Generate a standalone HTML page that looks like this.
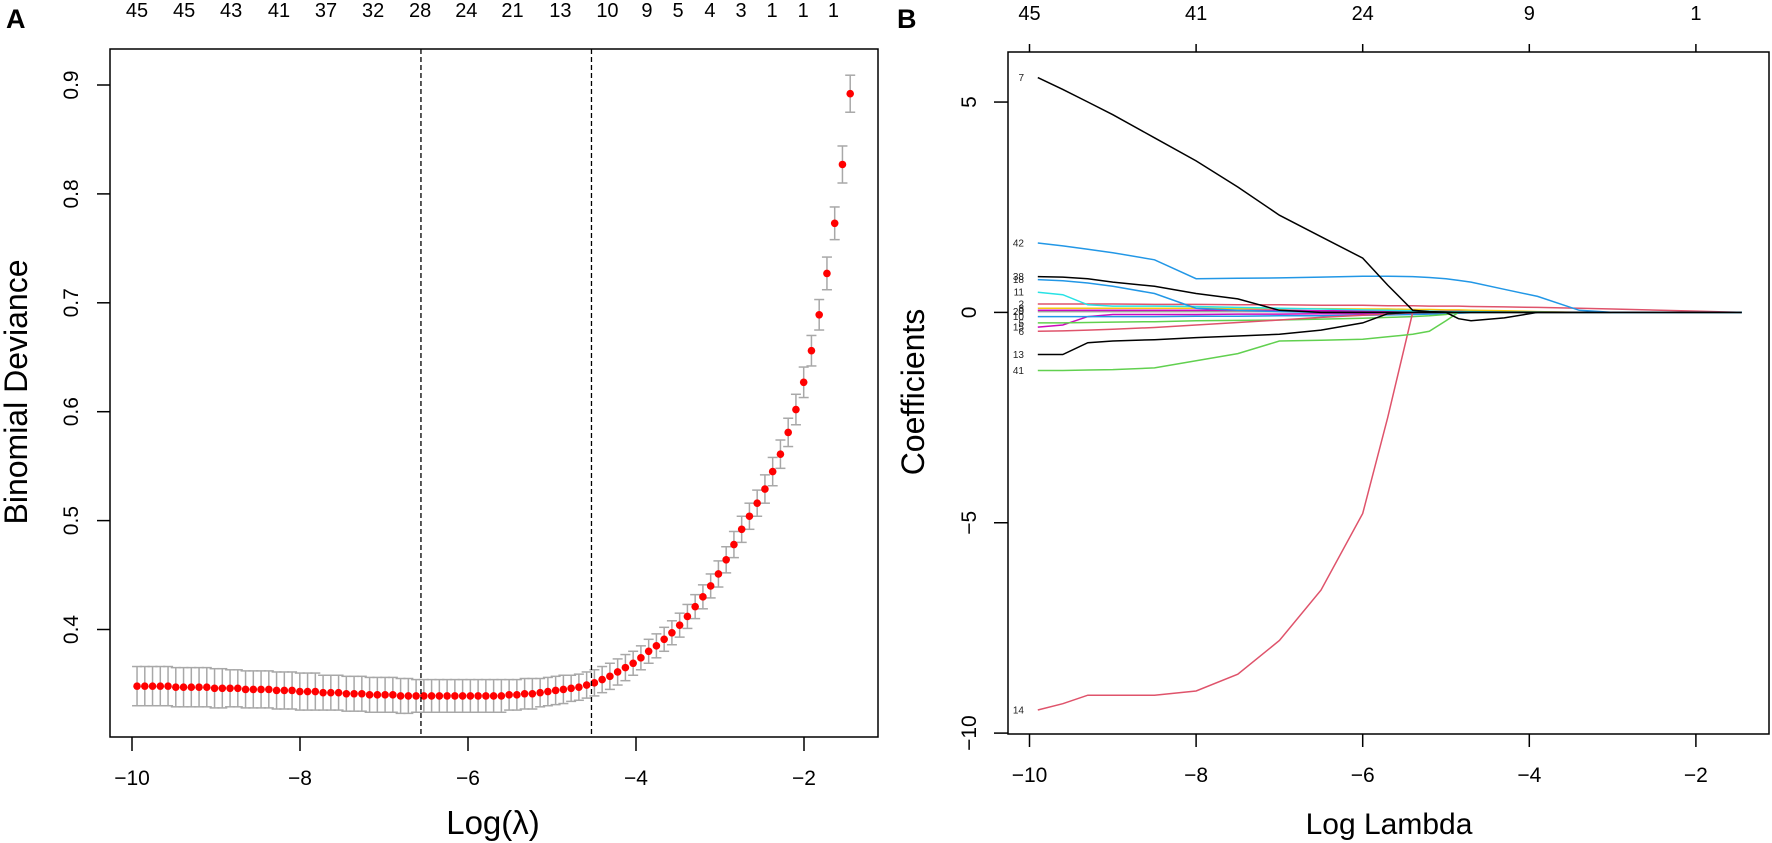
<!DOCTYPE html>
<html><head><meta charset="utf-8"><style>
html,body{margin:0;padding:0;background:#fff;}
svg{display:block;font-family:"Liberation Sans",Arial,sans-serif;}
</style></head><body>
<svg id="fig" width="1772" height="843" viewBox="0 0 1772 843" xmlns="http://www.w3.org/2000/svg">
<g id="pa"></g>
<g id="pb"></g>
</svg>
<script>
// ---------- Panel A data ----------
const cvStart = -9.94, cvEnd = -1.45;
const cvDeviance = [
0.348,0.348,0.348,0.348,0.348,0.347,0.347,0.347,0.347,0.347,
0.346,0.346,0.346,0.346,0.345,0.345,0.345,0.345,0.344,0.344,
0.344,0.343,0.343,0.343,0.342,0.342,0.342,0.341,0.341,0.341,
0.340,0.340,0.340,0.340,0.339,0.339,0.339,0.339,0.339,0.339,
0.339,0.339,0.339,0.339,0.339,0.339,0.339,0.339,0.340,0.340,
0.341,0.341,0.342,0.343,0.344,0.345,0.346,0.347,0.349,
0.351,0.354,0.357,0.361,0.365,0.369,0.374,0.380,0.385,0.391,
0.397,0.404,0.412,0.421,0.430,0.440,0.451,0.464,0.478,0.492,
0.504,0.516,0.529,0.545,0.561,0.581,0.602,0.627,0.656,0.689,
0.727,0.773,0.827,0.892];
const cvSE = [
0.018,0.018,0.018,0.018,0.018,0.018,0.018,0.018,0.018,0.018,0.018,0.018,
0.017,0.017,0.017,0.017,0.017,0.017,0.017,0.017,0.017,0.017,0.017,0.017,
0.016,0.016,0.016,0.016,0.016,0.016,0.016,0.016,0.016,0.016,0.016,0.016,
0.015,0.015,0.015,0.015,0.015,0.015,0.015,0.015,0.015,0.015,0.015,0.015,
0.014,0.014,0.014,0.014,0.013,0.013,0.013,0.013,0.012,0.012,0.012,
0.012,0.012,0.012,0.012,0.012,0.011,0.011,0.011,0.011,0.011,
0.011,0.011,0.011,0.011,0.011,0.011,0.012,0.012,0.012,0.012,
0.012,0.012,0.013,0.013,0.013,0.013,0.014,0.014,0.014,0.014,
0.015,0.015,0.017,0.017];
const lambdaMin = -6.56, lambda1se = -4.53;
const aXTicks = [-10,-8,-6,-4,-2];
const aYTicks = [0.4,0.5,0.6,0.7,0.8,0.9];
const aTopPos = [-9.94,-9.38,-8.82,-8.25,-7.69,-7.13,-6.57,-6.02,-5.47,-4.90,-4.34,-3.87,-3.50,-3.12,-2.75,-2.38,-2.01,-1.65];
const aTopLabels = ["45","45","43","41","37","32","28","24","21","13","10","9","5","4","3","1","1","1"];

// ---------- Panel B data ----------
const bLambda = [-9.9,-9.6,-9.3,-9.0,-8.5,-8.0,-7.5,-7.0,-6.5,-6.0,-5.7,-5.4,-5.2,-5.0,-4.85,-4.7,-4.3,-3.9,-3.4,-3.0,-2.0,-1.45];
const coef7  = [5.58,5.3,5.0,4.7,4.15,3.6,2.98,2.31,1.8,1.29,0.65,0.05,0.02,0.01,0,0,0,0,0,0,0,0];
const coef42 = [1.65,1.58,1.5,1.42,1.25,0.80,0.81,0.82,0.84,0.86,0.86,0.85,0.83,0.80,0.76,0.72,0.55,0.38,0.05,0,0,0];
const coef38 = [0.85,0.84,0.80,0.72,0.62,0.45,0.32,0.05,0,0,0,0,0,0,0,0,0,0,0,0,0,0];
const coef18 = [0.78,0.75,0.70,0.62,0.45,0.10,0.05,0.02,0,0,0,0,0,0,0,0,0,0,0,0,0,0];
const coef11 = [0.48,0.42,0.18,0.15,0.15,0.14,0.12,0.10,0.08,0.06,0.05,0.04,0.03,0.02,0.02,0.02,0.01,0.01,0,0,0,0];
const coef13 = [-1.0,-1.0,-0.72,-0.68,-0.65,-0.6,-0.56,-0.52,-0.42,-0.25,-0.03,0,0,0,-0.15,-0.2,-0.13,0,0,0,0,0];
const coef41 = [-1.38,-1.38,-1.37,-1.36,-1.32,-1.15,-0.98,-0.68,-0.66,-0.64,-0.58,-0.52,-0.45,-0.2,0,0,0,0,0,0,0,0];
const coef14 = [-9.45,-9.3,-9.1,-9.1,-9.1,-9.0,-8.6,-7.8,-6.6,-4.78,-2.5,0,0,0,0,0,0,0,0,0,0,0];
const coef2  = [0.2,0.2,0.2,0.2,0.19,0.19,0.18,0.18,0.17,0.17,0.16,0.16,0.15,0.15,0.15,0.14,0.13,0.12,0.1,0.08,0.03,0];
const coef6  = [-0.45,-0.44,-0.42,-0.40,-0.36,-0.3,-0.24,-0.18,-0.12,-0.07,-0.04,-0.01,0,0,0,0,0,0,0,0,0,0];
const coef5  = [-0.25,-0.25,-0.24,-0.23,-0.22,-0.2,-0.19,-0.18,-0.16,-0.14,-0.12,-0.1,-0.08,-0.05,0,0,0,0,0,0,0,0];
const coef3  = [0.1,0.1,0.1,0.1,0.1,0.1,0.09,0.09,0.09,0.08,0.08,0.07,0.07,0.06,0.06,0.05,0.04,0.02,0,0,0,0];
const coef9  = [0.05,0.05,0.05,0.05,0.05,0.05,0.05,0.05,0.04,0.04,0.04,0.04,0.03,0.03,0.03,0.02,0.02,0.01,0,0,0,0];
const coef10 = [-0.1,-0.1,-0.1,-0.1,-0.1,-0.09,-0.09,-0.08,-0.08,-0.07,-0.06,-0.05,-0.04,-0.03,-0.02,-0.01,0,0,0,0,0,0];
const coef15 = [-0.35,-0.3,-0.1,-0.05,-0.05,-0.05,-0.04,-0.04,-0.03,-0.03,-0.02,-0.02,-0.01,0,0,0,0,0,0,0,0,0];
const coef20 = [0.02,0.02,0.02,0.02,0.02,0.02,0.02,0.02,0.02,0.01,0.01,0.01,0.01,0.01,0,0,0,0,0,0,0,0];
const coefSeries = [
 {id:"7",v:coef7,c:"#000000"},{id:"42",v:coef42,c:"#2297E6"},{id:"38",v:coef38,c:"#000000"},
 {id:"18",v:coef18,c:"#2297E6"},{id:"11",v:coef11,c:"#28E2E5"},{id:"13",v:coef13,c:"#000000"},
 {id:"41",v:coef41,c:"#61D04F"},{id:"14",v:coef14,c:"#DF536B"},{id:"2",v:coef2,c:"#DF536B"},
 {id:"6",v:coef6,c:"#DF536B"},{id:"5",v:coef5,c:"#61D04F"},{id:"3",v:coef3,c:"#F5C710"},
 {id:"9",v:coef9,c:"#CD0BBC"},{id:"10",v:coef10,c:"#2297E6"},{id:"15",v:coef15,c:"#CD0BBC"},
 {id:"20",v:coef20,c:"#9E9E9E"}];
const bXTicks = [-10,-8,-6,-4,-2];
const bYTicks = [-10,-5,0,5];
const bTopLabels = ["45","41","24","9","1"];

const NS="http://www.w3.org/2000/svg";
function mk(parent, tag, attrs, text){
  const e=document.createElementNS(NS,tag);
  for(const k in attrs) e.setAttribute(k,attrs[k]);
  if(text!==undefined) e.textContent=text;
  parent.appendChild(e); return e;
}
// ---------- Panel A ----------
const pa=document.getElementById('pa');
const xA=v=>132+(v+10)*84;
const yA=v=>85+(0.9-v)*1089;
const boxA={l:110,r:878,t:49,b:737};
let e;
e=mk(pa,'text',{x:6,y:28,'font-size':27,'font-weight':'bold'},'A');


const n=cvDeviance.length;
for(let i=0;i<n;i++){
  const lx=cvStart+(cvEnd-cvStart)*i/(n-1);
  const x=xA(lx), y1=yA(cvDeviance[i]+cvSE[i]), y2=yA(cvDeviance[i]-cvSE[i]);
  const g=mk(pa,'g',{stroke:'#a8a8a8','stroke-width':1.5});
  
  
  mk(g,'line',{x1:x,x2:x,y1:y1,y2:y2});
  mk(g,'line',{x1:x-5,x2:x+5,y1:y1,y2:y1});
  mk(g,'line',{x1:x-5,x2:x+5,y1:y2,y2:y2});
}
for(let i=0;i<n;i++){
  const lx=cvStart+(cvEnd-cvStart)*i/(n-1);
  e=mk(pa,'circle',{cx:xA(lx),cy:yA(cvDeviance[i]),r:3.8,fill:'#ff0000'});
  
  
}
[lambdaMin,lambda1se].forEach(v=>{
  e=mk(pa,'line',{x1:xA(v),x2:xA(v),y1:boxA.t,y2:boxA.b,stroke:'#000','stroke-width':1.3,'stroke-dasharray':'5,3'});
  
  
});
e=mk(pa,'rect',{x:boxA.l,y:boxA.t,width:boxA.r-boxA.l,height:boxA.b-boxA.t,fill:'none',stroke:'#000','stroke-width':1.5});


aXTicks.forEach(v=>{
  mk(pa,'line',{x1:xA(v),x2:xA(v),y1:boxA.b,y2:751,stroke:'#000','stroke-width':1.5});
  e=mk(pa,'text',{x:xA(v),y:785,'font-size':21,'text-anchor':'middle'},'\u2212'+Math.abs(v));
  
  
});
aYTicks.forEach(v=>{
  mk(pa,'line',{x1:97,x2:boxA.l,y1:yA(v),y2:yA(v),stroke:'#000','stroke-width':1.5});
  e=mk(pa,'text',{x:0,y:0,'font-size':21,'text-anchor':'middle',transform:`translate(78,${yA(v)}) rotate(-90)`},v.toFixed(1));
  
  
});
aTopPos.forEach((v,i)=>{
  e=mk(pa,'text',{x:xA(v),y:17,'font-size':20,'text-anchor':'middle'},aTopLabels[i]);
  
  
});
e=mk(pa,'text',{x:0,y:0,'font-size':32,'text-anchor':'middle',transform:'translate(27,392) rotate(-90)'},'Binomial Deviance');


e=mk(pa,'text',{x:493,y:834,'font-size':33,'text-anchor':'middle'},'Log(\u03bb)');



// ---------- Panel B ----------
const pb=document.getElementById('pb');
const xB=v=>1029.5+(v+10)*83.3;
const yB=v=>312.4-v*42.07;
const boxB={l:1008,r:1769,t:52,b:734};
e=mk(pb,'text',{x:897,y:28,'font-size':27,'font-weight':'bold'},'B');


coefSeries.slice().reverse().forEach(s=>{
  const d=s.v.map((v,i)=>(i?'L':'M')+xB(bLambda[i]).toFixed(1)+','+yB(v).toFixed(1)).join(' ');
  e=mk(pb,'path',{d:d,fill:'none',stroke:s.c,'stroke-width':1.5});
  
  
  e=mk(pb,'text',{x:1024,y:yB(s.v[0])+3.5,'font-size':10,'text-anchor':'end',fill:'#222'},s.id);
  
  
});
e=mk(pb,'rect',{x:boxB.l,y:boxB.t,width:boxB.r-boxB.l,height:boxB.b-boxB.t,fill:'none',stroke:'#000','stroke-width':1.5});


bXTicks.forEach((v,i)=>{
  mk(pb,'line',{x1:xB(v),x2:xB(v),y1:boxB.b,y2:747,stroke:'#000','stroke-width':1.5});
  mk(pb,'line',{x1:xB(v),x2:xB(v),y1:boxB.t,y2:44,stroke:'#000','stroke-width':1.5});
  e=mk(pb,'text',{x:xB(v),y:782,'font-size':21,'text-anchor':'middle'},'\u2212'+Math.abs(v));
  
  
  e=mk(pb,'text',{x:xB(v),y:20,'font-size':20,'text-anchor':'middle'},bTopLabels[i]);
  
  
});
bYTicks.forEach(v=>{
  mk(pb,'line',{x1:994,x2:boxB.l,y1:yB(v),y2:yB(v),stroke:'#000','stroke-width':1.5});
  e=mk(pb,'text',{x:0,y:0,'font-size':21,'text-anchor':'middle',transform:`translate(976,${yB(v)}) rotate(-90)`},v<0?'\u2212'+Math.abs(v):String(v));
  
  
});
e=mk(pb,'text',{x:0,y:0,'font-size':32,'text-anchor':'middle',transform:'translate(924,392) rotate(-90)'},'Coefficients');


e=mk(pb,'text',{x:1389,y:834,'font-size':30,'text-anchor':'middle'},'Log Lambda');


</script>
</body></html>
